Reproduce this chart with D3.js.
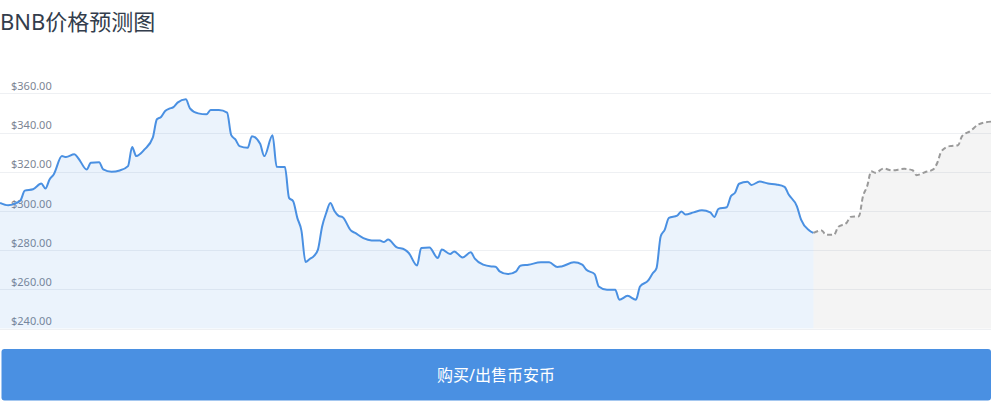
<!DOCTYPE html>
<html>
<head>
<meta charset="utf-8">
<script src="https://cdn.jsdelivr.net/npm/d3@7"></script>
<style>
  body { margin: 0; background: #fff; }
  svg { display: block; font-family: "Noto Sans", "Noto Sans CJK SC", sans-serif; }
</style>
</head>
<body>
<svg id="chart"></svg>
<script>
// history: day index and closing price
const days = [0, 2, 4, 5, 6, 8, 10, 11, 12, 13, 15, 16, 18, 19, 21, 22, 24, 25, 27, 29,
    31, 32, 33, 35, 37, 38, 39, 40, 41, 42, 43, 45, 46, 48, 50, 51, 53, 55, 56, 57,
    58, 60, 61, 63, 64, 66, 67, 69, 70, 71, 72, 73, 74, 75, 76, 77, 78, 79, 80, 81,
    82, 83, 85, 86, 88, 90, 92, 93, 94, 96, 98, 99, 101, 102, 104, 106, 107, 109, 110, 112,
    114, 115, 117, 119, 120, 121, 123, 125, 126, 128, 131, 133, 135, 136, 139, 141, 142, 144, 145, 147,
    149, 150, 152, 154, 155, 157, 158, 159, 160, 161, 162, 164, 165, 166, 168, 170, 172, 173, 174, 176,
    177, 178, 179, 181, 182, 184, 186, 188, 190, 191, 193, 194, 196, 197];
const prices = [304.1, 302.9, 304.1, 305.5, 310.4, 311.1, 314, 311.5, 316.1, 318.6, 328, 327.5, 328.9, 326.8, 321.2, 324.6, 324.9, 321.2, 320, 320.7,
    322.9, 332.6, 328, 331.4, 337.4, 346.8, 348, 351, 352.2, 353, 355.3, 357, 352.4, 349.8, 349.3, 351.5, 351.5, 350.2, 338.7, 336.5,
    333.1, 332.3, 338.2, 334.3, 328, 338.7, 322.6, 322.4, 306.7, 305, 296.5, 290, 274, 275.5, 277, 280.3, 292, 299, 304.1, 300,
    297.5, 296.8, 290, 288.8, 286.2, 285, 284.9, 284.2, 285.4, 281.6, 280.3, 278.6, 272.2, 281.1, 281.4, 276, 280.3, 278.1, 279.4, 276.3,
    278.9, 275.7, 272.6, 271.7, 271.6, 269.2, 267.8, 269.2, 272.1, 272.6, 273.8, 273.8, 271.4, 271.7, 273.8, 272.6, 270, 267.8, 261.5, 259.8,
    259.8, 254.7, 256.7, 254.7, 261.5, 264.6, 268, 270.9, 287, 290.5, 296.5, 297.6, 299.8, 298.2, 299.3, 300.4, 299.3, 297, 301.1, 301.9,
    307.5, 309.3, 313.9, 314.9, 313.3, 315, 314, 313.5, 312.3, 308.4, 302.4, 295.6, 290.1, 288.8];

// forecast
const forecastDays = [197, 199, 200, 202, 203, 205, 206, 208, 209, 210, 211, 212, 214, 216, 219, 221, 222, 224, 226, 227,
    228, 230, 232, 233, 235, 237, 240];
const forecastPrices = [288.8, 290.1, 287.9, 287.9, 291.9, 293.9, 297, 297.3, 307.5, 312.6, 320.3, 319.5, 321.7, 320.7, 321.5, 320.8, 318.3, 319.8, 321.2, 324.6,
    330.5, 333.1, 333.5, 338.2, 340.8, 344.2, 345.6];

const yTicks = [240, 260, 280, 300, 320, 340, 360];
const title = "BNB价格预测图";
const buttonLabel = "购买/出售币安币";

const W = 992, H = 401;
const svg = d3.select("#chart").attr("width", W).attr("height", H);

const x = d3.scaleLinear().domain([0, 240]).range([0, 991]);
const y = d3.scaleLinear().domain([240, 360]).range([328.6, 93.4]);

svg.append("text")
    .attr("x", 0)
    .attr("y", 30)
    .attr("fill", "#333d4c")
    .style("font-size", "22px")
    .text(title);

// gridlines
svg.append("g")
    .selectAll("line")
    .data(yTicks)
    .join("line")
        .attr("x1", 0)
        .attr("x2", 991)
        .attr("y1", d => Math.round(y(d)) + 0.5)
        .attr("y2", d => Math.round(y(d)) + 0.5)
        .attr("stroke", "#eef0f3");

svg.append("g")
    .selectAll("text")
    .data(yTicks)
    .join("text")
        .attr("x", 11)
        .attr("y", d => y(d) - 3.5)
        .attr("fill", "#7c8594")
        .style("font-size", "11px")
        .text(d => "$" + d3.format(".2f")(d));

const hist = days.map((d, i) => [d, prices[i]]);
const fc = forecastDays.map((d, i) => [d, forecastPrices[i]]);

const area = d3.area()
    .curve(d3.curveMonotoneX)
    .x(d => x(d[0]))
    .y0(y(240))
    .y1(d => y(d[1]));
const line = d3.line()
    .curve(d3.curveMonotoneX)
    .x(d => x(d[0]))
    .y(d => y(d[1]));

svg.append("path")
    .datum(hist)
    .attr("d", area)
    .attr("fill", "rgba(74,144,226,0.11)");
svg.append("path")
    .datum(fc)
    .attr("d", area)
    .attr("fill", "rgba(120,120,120,0.08)");

svg.append("path")
    .datum(hist)
    .attr("d", line)
    .attr("fill", "none")
    .attr("stroke", "#4a90e2")
    .attr("stroke-width", 2);
svg.append("path")
    .datum(fc)
    .attr("d", line)
    .attr("fill", "none")
    .attr("stroke", "#9a9a9a")
    .attr("stroke-width", 2)
    .attr("stroke-dasharray", "5 3");

// buy / sell button
const btn = svg.append("g");
btn.append("rect")
    .attr("x", 1.5)
    .attr("y", 349)
    .attr("width", 989.5)
    .attr("height", 51.5)
    .attr("rx", 3)
    .attr("fill", "#4a90e2");
btn.append("text")
    .attr("x", 496)
    .attr("y", 375)
    .attr("dy", "0.36em")
    .attr("text-anchor", "middle")
    .attr("fill", "#fff")
    .style("font-size", "16px")
    .text(buttonLabel);
</script>
</body>
</html>
